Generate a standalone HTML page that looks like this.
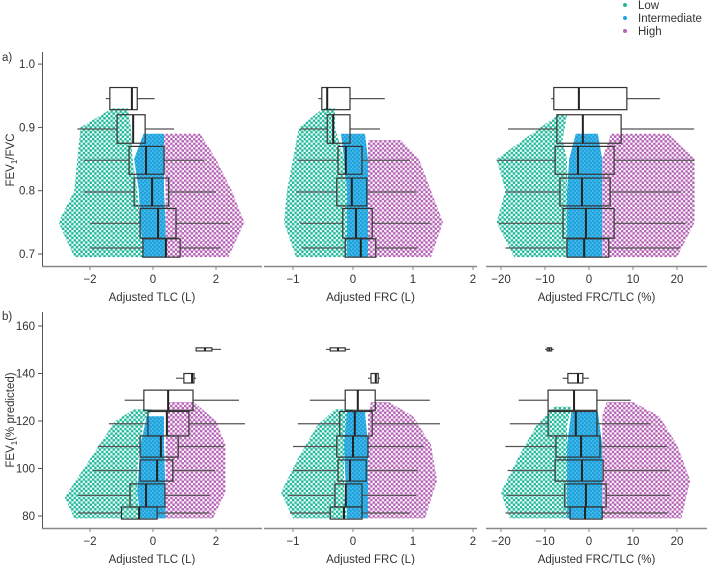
<!DOCTYPE html>
<html><head><meta charset="utf-8">
<style>
body{margin:0;background:#fff;}
svg{display:block;font-family:"Liberation Sans",sans-serif;}
text{fill:#333;font-size:11.5px;}
</style></head>
<body>
<svg id="chart" width="707" height="565" viewBox="0 0 707 565">
<defs>
<pattern id="pLow" patternUnits="userSpaceOnUse" width="4.6" height="4.6"><circle cx="1.1" cy="1.1" r="1.4" fill="#20b99b"/><circle cx="3.4" cy="3.4" r="1.4" fill="#20b99b"/></pattern>
<pattern id="pInt" patternUnits="userSpaceOnUse" width="4" height="4"><rect width="4" height="4" fill="#4fb8e6"/><circle cx="1" cy="1" r="1.4" fill="#1ea5e0"/><circle cx="3" cy="3" r="1.4" fill="#1ea5e0"/></pattern>
<pattern id="pHigh" patternUnits="userSpaceOnUse" width="4.6" height="4.6"><circle cx="1.1" cy="1.1" r="1.4" fill="#b564b5"/><circle cx="3.4" cy="3.4" r="1.4" fill="#b564b5"/></pattern>
</defs>
<g>
<circle cx="625" cy="5" r="2" fill="#20b99b"/><text x="638" y="9">Low</text>
<circle cx="625" cy="18" r="2" fill="#1ea5e0"/><text x="638" y="22">Intermediate</text>
<circle cx="625" cy="31" r="2" fill="#b564b5"/><text x="638" y="35">High</text>
</g>
<text x="2" y="61">a)</text>
<text x="2" y="320">b)</text>
<text transform="translate(14,160) rotate(-90)" text-anchor="middle">FEV<tspan font-size="8" dy="3">1</tspan><tspan dy="-3">/FVC</tspan></text>
<text transform="translate(14,420) rotate(-90)" text-anchor="middle">FEV<tspan font-size="8" dy="3">1</tspan><tspan dy="-3">(% predicted)</tspan></text>
<line x1="42.5" y1="52" x2="42.5" y2="266" stroke="#555"/>
<line x1="42.5" y1="312" x2="42.5" y2="528" stroke="#555"/>
</svg>
<script>
// ---- top row data (FEV1/FVC) ----
const topYTicks = [0.7, 0.8, 0.9, 1.0];
const botYTicks = [80, 100, 120, 140, 160];
// box stats: [yLo, yHi, q1, median, q3, whiskerLo, whiskerHi]
const tlcTopBoxes = [[0.928,0.963,-1.37,-0.67,-0.5,-1.5,0.05],[0.875,0.92,-1.14,-0.63,-0.25,-2.4,0.67],[0.826,0.87,-0.76,-0.22,0.35,-2.2,1.62],[0.776,0.82,-0.6,-0.03,0.5,-2.2,2.0],[0.725,0.772,-0.41,0.16,0.73,-2.0,2.44],[0.695,0.724,-0.32,0.41,0.86,-2.0,2.16]];
const frcTopBoxes = [[0.928,0.963,-0.52,-0.43,-0.05,-0.58,0.53],[0.875,0.92,-0.43,-0.33,-0.05,-0.88,0.45],[0.826,0.87,-0.25,-0.12,0.15,-0.92,0.95],[0.776,0.82,-0.27,-0.02,0.23,-0.95,1.05],[0.725,0.772,-0.17,0.05,0.32,-0.88,1.28],[0.695,0.724,-0.13,0.13,0.38,-0.85,1.08]];
const ratioTopBoxes = [[0.928,0.963,-8,-2.3,8.6,-8.6,16.1],[0.875,0.92,-7.3,-1.4,7.3,-18.4,23.9],[0.826,0.87,-7.7,-2.5,5.7,-21,24],[0.776,0.82,-6.6,-1.6,4.8,-19,21],[0.725,0.772,-5.9,-0.7,5.7,-20.5,22],[0.695,0.724,-5,-1.1,4.5,-19,20.7]];
// cloud extents: [y, xMin, xMax]
const tlcTopLow = [[0.695,-2.5,-0.3],[0.75,-3.0,-0.4],[0.8,-2.5,-0.5],[0.85,-2.4,-0.65],[0.9,-2.3,-0.7],[0.93,-1.3,-0.8]];
const tlcTopInt = [[0.695,-0.3,0.4],[0.75,-0.4,0.4],[0.8,-0.45,0.35],[0.85,-0.6,0.35],[0.89,-0.3,0.35]];
const tlcTopHigh = [[0.695,0.4,2.4],[0.75,0.4,2.9],[0.8,0.4,2.5],[0.85,0.35,2.0],[0.89,0.35,1.5]];
const frcTopLow = [[0.695,-0.95,-0.1],[0.75,-1.15,-0.1],[0.8,-1.1,-0.1],[0.85,-1.0,-0.15],[0.9,-0.9,-0.3],[0.93,-0.5,-0.3]];
const frcTopInt = [[0.695,-0.1,0.25],[0.75,-0.1,0.25],[0.8,-0.1,0.25],[0.85,-0.15,0.25],[0.89,-0.2,0.2]];
const frcTopHigh = [[0.695,0.25,1.3],[0.75,0.25,1.5],[0.8,0.25,1.3],[0.85,0.25,1.1],[0.88,0.25,0.8]];
const ratioTopLow = [[0.695,-17,-5],[0.75,-21,-5],[0.8,-19,-5],[0.85,-21,-5],[0.88,-15,-6],[0.92,-7,-5]];
const ratioTopInt = [[0.695,-5,3],[0.75,-5,3],[0.8,-5,3],[0.85,-4.5,3],[0.89,-3,2]];
const ratioTopHigh = [[0.695,3,20],[0.75,3,24],[0.8,3,24],[0.85,3,24],[0.89,5,18]];
// ---- bottom row data (FEV1 % predicted) ----
const tlcBotBoxes = [[149.5,150.8,1.37,1.65,1.87,1.37,2.16],[136,140,0.98,1.24,1.3,0.73,1.37],[124.5,133,-0.29,0.48,1.27,-0.9,2.73],[113.7,124,-0.16,0.44,1.14,-1.4,2.92],[104.8,113.7,-0.41,0.25,0.8,-1.75,2.25],[94.7,103.6,-0.41,0.13,0.63,-1.9,1.97],[83.8,93.5,-0.73,-0.22,0.38,-2.38,1.8],[78.7,83.8,-1.0,-0.44,0.13,-2.38,1.78]];
const frcBotBoxes = [[149.5,150.8,-0.38,-0.25,-0.13,-0.45,-0.05],[136,140,0.3,0.38,0.42,0.25,0.45],[124.5,133,-0.13,0.08,0.37,-0.72,1.28],[113.7,124,-0.22,0.03,0.32,-0.92,1.45],[104.8,113.7,-0.27,0,0.25,-1.0,1.18],[94.7,103.6,-0.25,-0.05,0.22,-1.0,1.08],[83.8,93.5,-0.3,-0.12,0.15,-1.08,1.05],[78.7,83.8,-0.38,-0.15,0.15,-1.05,0.95]];
const ratioBotBoxes = [[149.5,150.8,-9.5,-9,-8.5,-10,-8],[136,140,-4.8,-2.5,-1.4,-6,0],[124.5,133,-9.3,-3.4,1.8,-16,9.5],[113.7,124,-9.3,-3,1.8,-18,14],[104.8,113.7,-7.5,-1.8,2.5,-19,17.7],[94.7,103.6,-7.7,-1.6,3.2,-18.5,18.4],[83.8,93.5,-5.5,-0.7,3.9,-18.8,18.4],[78.7,83.8,-4.3,-0.9,3,-19,17.9]];
const tlcBotLow = [[79,-2.5,-0.4],[88,-2.8,-0.5],[100,-2.2,-0.5],[110,-1.7,-0.4],[120,-1.2,-0.3],[125,-0.6,0]];
const tlcBotInt = [[79,-0.4,0.4],[90,-0.5,0.4],[110,-0.4,0.35],[122,-0.2,0.35]];
const tlcBotHigh = [[79,0.4,1.9],[90,0.4,2.3],[100,0.4,2.3],[110,0.4,2.3],[120,0.45,2.0],[128,0.5,1.3]];
const frcBotLow = [[79,-1.0,-0.1],[90,-1.2,-0.15],[105,-0.9,-0.15],[118,-0.6,-0.1],[125,-0.3,0]];
const frcBotInt = [[79,-0.1,0.25],[110,-0.15,0.25],[124,-0.1,0.2]];
const frcBotHigh = [[79,0.25,1.2],[95,0.25,1.4],[110,0.25,1.3],[122,0.25,1.0],[128,0.3,0.6]];
const ratioBotLow = [[79,-18,-5],[90,-20,-5],[105,-16,-5],[118,-12,-5],[126,-8,-4]];
const ratioBotInt = [[79,-5,3],[110,-5,3],[124,-4,2]];
const ratioBotHigh = [[79,3,21],[95,3,23],[110,3,20],[122,3,16],[128,4,10]];
const tlcTicks = [-2, 0, 2];
const frcTicks = [-1, 0, 1, 2];
const ratioTicks = [-20, -10, 0, 10, 20];
const tickLabel = v => v < 0 ? '\u2212' + Math.abs(v) : String(v);

const NS = 'http://www.w3.org/2000/svg';
const svg = document.getElementById('chart');
function mk(tag, attrs, parent) {
  const e = document.createElementNS(NS, tag);
  for (const k in attrs) e.setAttribute(k, attrs[k]);
  (parent || svg).appendChild(e);
  return e;
}
const yTop = v => 254 - (v - 0.7) * 633;
const yBot = v => 516 - (v - 80) * 2.375;
function xScale(px0, px1, d0, d1) { return v => px0 + (v - d0) / (d1 - d0) * (px1 - px0); }

function drawPanel(name, xs, ys, x0px, x1px, axisY, boxes, low, inter, high, ticks, title) {
  const g = mk('g', {});
  
  
  boxes.forEach(b => {
    const r = mk('rect', {x: xs(b[2]), y: ys(b[1]), width: xs(b[4]) - xs(b[2]), height: ys(b[0]) - ys(b[1]), fill: '#fff'}, g);
    
    
  });
  [[low, 'url(#pLow)', 'cloud-low'], [inter, 'url(#pInt)', 'cloud-intermediate'], [high, 'url(#pHigh)', 'cloud-high']].forEach(c => {
    const rows = c[0];
    const pts = rows.map(r => xs(r[1]) + ',' + ys(r[0])).concat(rows.slice().reverse().map(r => xs(r[2]) + ',' + ys(r[0])));
    const p = mk('polygon', {points: pts.join(' '), fill: c[1]}, g);
    
    
  });
  boxes.forEach(b => {
    const ym = (ys(b[0]) + ys(b[1])) / 2;
    const w1 = mk('line', {x1: xs(b[5]), x2: xs(b[2]), y1: ym, y2: ym, stroke: '#555', 'stroke-width': 1.2}, g);
    
    
    const w2 = mk('line', {x1: xs(b[4]), x2: xs(b[6]), y1: ym, y2: ym, stroke: '#555', 'stroke-width': 1.2}, g);
    
    
    const r = mk('rect', {x: xs(b[2]), y: ys(b[1]), width: xs(b[4]) - xs(b[2]), height: ys(b[0]) - ys(b[1]), fill: 'none', stroke: '#333', 'stroke-width': 1.2}, g);
    
    
    const m = mk('line', {x1: xs(b[3]), x2: xs(b[3]), y1: ys(b[1]), y2: ys(b[0]), stroke: '#222', 'stroke-width': 2}, g);
    
    
  });
  const ax = mk('line', {x1: x0px, x2: x1px, y1: axisY + 0.5, y2: axisY + 0.5, stroke: '#888', 'stroke-width': 1.5}, g);
  
  
  ticks.forEach(t => {
    const tl = mk('line', {x1: xs(t), x2: xs(t), y1: axisY, y2: axisY + 4, stroke: '#888'}, g);
    
    
    const tx = mk('text', {x: xs(t), y: axisY + 17, 'text-anchor': 'middle'}, g);
    tx.textContent = tickLabel(t);
    
    
  });
  const tt = mk('text', {x: (x0px + x1px) / 2, y: axisY + 35, 'text-anchor': 'middle'}, g);
  tt.textContent = title;
  
  
}

const xTlc = xScale(153, 216, 0, 2);
const xFrc = xScale(353, 413, 0, 1);
const xRatio = xScale(589, 633, 0, 10);
drawPanel('panel-tlc-ratio', xTlc, yTop, 42, 262, 266, tlcTopBoxes, tlcTopLow, tlcTopInt, tlcTopHigh, tlcTicks, 'Adjusted TLC (L)');
drawPanel('panel-frc-ratio', xFrc, yTop, 264, 477, 266, frcTopBoxes, frcTopLow, frcTopInt, frcTopHigh, frcTicks, 'Adjusted FRC (L)');
drawPanel('panel-frctlc-ratio', xRatio, yTop, 486, 707, 266, ratioTopBoxes, ratioTopLow, ratioTopInt, ratioTopHigh, ratioTicks, 'Adjusted FRC/TLC (%)');
drawPanel('panel-tlc-fev1', xTlc, yBot, 42, 262, 528, tlcBotBoxes, tlcBotLow, tlcBotInt, tlcBotHigh, tlcTicks, 'Adjusted TLC (L)');
drawPanel('panel-frc-fev1', xFrc, yBot, 264, 477, 528, frcBotBoxes, frcBotLow, frcBotInt, frcBotHigh, frcTicks, 'Adjusted FRC (L)');
drawPanel('panel-frctlc-fev1', xRatio, yBot, 486, 707, 528, ratioBotBoxes, ratioBotLow, ratioBotInt, ratioBotHigh, ratioTicks, 'Adjusted FRC/TLC (%)');

topYTicks.forEach(t => {
  const l = mk('line', {x1: 38, x2: 42, y1: yTop(t), y2: yTop(t), stroke: '#555'});
  
  
  const tx = mk('text', {x: 35, y: yTop(t) + 4, 'text-anchor': 'end'});
  tx.textContent = t.toFixed(1);
  
  
});
botYTicks.forEach(t => {
  const l = mk('line', {x1: 38, x2: 42, y1: yBot(t), y2: yBot(t), stroke: '#555'});
  
  
  const tx = mk('text', {x: 35, y: yBot(t) + 4, 'text-anchor': 'end'});
  tx.textContent = String(t);
  
  
});
</script>
</body></html>
